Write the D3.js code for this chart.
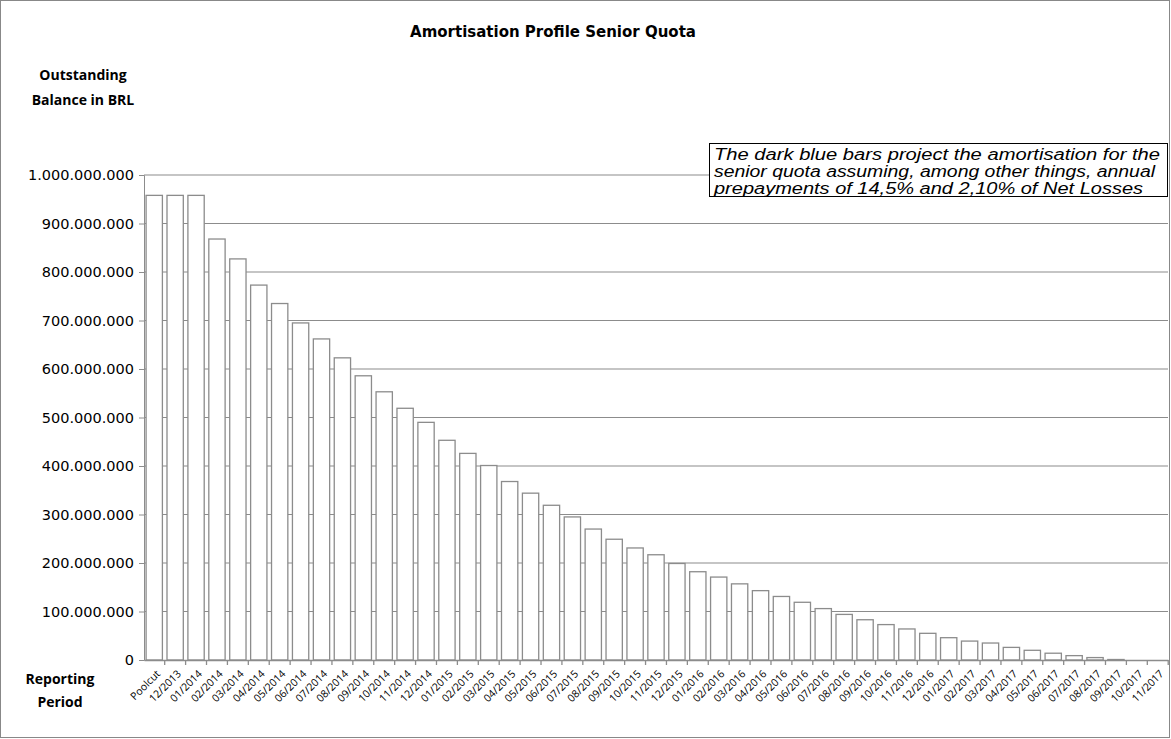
<!DOCTYPE html>
<html>
<head>
<meta charset="UTF-8">
<script src="https://d3js.org/d3.v7.min.js"></script>
<style>
  body { margin: 0; background: #fff; }
  .axis-x text { font-family: "Open Sans", sans-serif; }
  .axis-y text { font-family: "DejaVu Sans", sans-serif; }
</style>
</head>
<body>
<svg id="chart" width="1171" height="739"></svg>
<script>
// values in millions of BRL
const periods = ["Poolcut", "12/2013"];
["2014", "2015", "2016", "2017"].forEach(y => {
  for (let m = 1; m <= 12; m++) {
    if (y === "2017" && m === 12) break;
    periods.push((m < 10 ? "0" + m : "" + m) + "/" + y);
  }
});
const balance = [958, 958, 958, 868, 827, 773, 735, 695, 662, 623, 586, 553, 519, 490, 453, 426, 401,
  368, 344, 319, 295, 270, 249, 231, 217, 199, 182, 171, 157, 143, 131, 119, 106, 94, 83, 73, 64, 55,
  46, 39, 35, 26, 20, 14, 9, 5, 1, 0, 0];
const yTicks = [0, 100, 200, 300, 400, 500, 600, 700, 800, 900, 1000];
const noteLines = ["The dark blue bars project the amortisation for the",
  "senior quota assuming, among other things, annual",
  "prepayments of 14,5% and 2,10% of Net Losses"];

const svg = d3.select("#chart");
const plotL = 144, plotR = 1168, plotT = 175, plotB = 660;

svg.append("rect").attr("x", 0.5).attr("y", 0.5).attr("width", 1169).attr("height", 737)
  .attr("fill", "none").attr("stroke", "#888");

const x = d3.scaleBand().domain(periods).range([plotL, plotR]).paddingInner(0.22).paddingOuter(0.1);
const y = d3.scaleLinear().domain([0, 1000]).range([plotB, plotT]);

const fmt = v => v === 0 ? "0" : d3.format(",")(v * 1e6).replace(/,/g, ".");

// grid
svg.append("g").selectAll("line").data(yTicks.slice(1)).join("line")
  .attr("x1", plotL).attr("x2", plotR).attr("y1", d => y(d)).attr("y2", d => y(d))
  .attr("stroke", "#8c8c8c").attr("stroke-width", 1.2);

svg.append("g").attr("class", "axis-y").attr("transform", `translate(${plotL},0)`)
  .call(d3.axisLeft(y).tickValues(yTicks).tickFormat(fmt).tickSize(5).tickPadding(5))
  .call(g => g.selectAll("text").attr("font-size", 14.5).attr("fill", "#000"))
  .call(g => g.selectAll("line, path").attr("stroke", "#8c8c8c"));

// bars
svg.append("g").selectAll("rect").data(balance).join("rect")
  .attr("x", (d, i) => x(periods[i])).attr("width", x.bandwidth())
  .attr("y", d => y(d)).attr("height", d => y(0) - y(d))
  .attr("fill", "#fff").attr("stroke", "#8c8c8c").attr("stroke-width", 1.3);

const xg = svg.append("g").attr("class", "axis-x").attr("transform", `translate(0,${plotB})`)
  .call(d3.axisBottom(x).tickSize(5).tickSizeOuter(0));
xg.selectAll("line, path").attr("stroke", "#8c8c8c").attr("stroke-width", 1.3);
xg.selectAll(".tick line").attr("transform", `translate(${x.step() / 2},0)`);
xg.selectAll("text").attr("font-size", 10.5).attr("fill", "#000")
  .attr("text-anchor", "end").attr("x", 0).attr("y", 0).attr("dy", "0.35em")
  .attr("transform", "translate(4,12) rotate(-45)");

// titles
const txt = (s, xx, yy, size, anchor, fam) => svg.append("text").attr("x", xx).attr("y", yy)
  .attr("font-family", fam || "Open Sans, sans-serif").attr("font-weight", "bold")
  .attr("font-size", size).attr("text-anchor", anchor || "start").text(s);
txt("Amortisation Profile Senior Quota", 553, 37, 15, "middle", "DejaVu Sans, sans-serif");
txt("Outstanding", 83, 80, 14, "middle");
txt("Balance in BRL", 83, 105, 14, "middle");
txt("Reporting", 60, 684, 14, "middle");
txt("Period", 60, 707, 14, "middle");

// note box
svg.append("rect").attr("x", 709.5).attr("y", 143.5).attr("width", 458).attr("height", 53)
  .attr("fill", "#fff").attr("stroke", "#000");
const noteW = [446, 441, 429];
noteLines.forEach((s, i) =>
  svg.append("text").attr("x", 714).attr("y", 160 + i * 17)
    .attr("font-family", "Liberation Sans, Arial, sans-serif").attr("font-style", "italic")
    .attr("font-size", 16).attr("textLength", noteW[i]).attr("lengthAdjust", "spacingAndGlyphs")
    .text(s));
</script>
</body>
</html>
